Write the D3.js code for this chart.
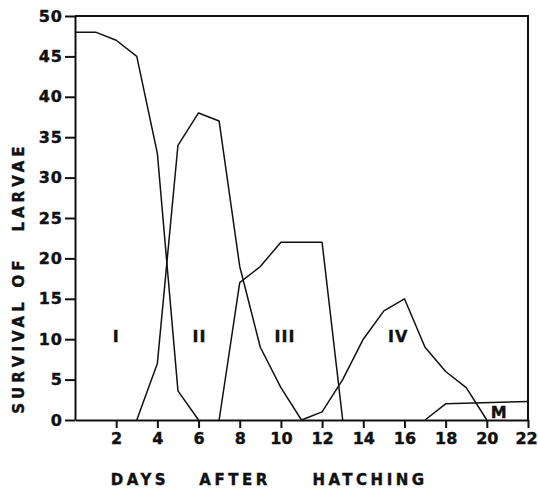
<!DOCTYPE html>
<html>
<head>
<meta charset="utf-8">
<script src="https://cdn.jsdelivr.net/npm/d3@7"></script>
<style>
body { margin: 0; background: #ffffff; }
text { font-family: "DejaVu Sans", sans-serif; font-weight: bold; fill: #111; stroke: #111; stroke-width: 0.4px; }
</style>
</head>
<body>
<div id="larvae"></div>
<script>
//
// Survival of larvae per stage (day, count)
//
var stageI   = [[0,48],[1,48],[2,47],[3,45],[4,33],[5,3.6],[6,0]];
var stageII  = [[3,0],[4,7],[5,34],[6,38],[7,37],[8,19],[9,9],[10,4],[11,0]];
var stageIII = [[7,0],[8,17],[9,19],[10,22],[12,22],[13,0]];
var stageIV  = [[11,0],[12,1],[13,5],[14,10],[15,13.5],[16,15],[17,9],[18,6],[19,4],[20,0]];
var stageM   = [[17,0],[18,2],[22,2.3]];

var stageNames = ["I", "II", "III", "IV", "M"];
var labelDay   = [2, 6.05, 10.2, 15.7, 20.6];
var labelValue = [9.7, 9.7, 9.7, 9.7, 0.2];

var xTicks = [2,4,6,8,10,12,14,16,18,20,22];
var yTicks = [0,5,10,15,20,25,30,35,40,45,50];

//
// size of the plot
//
var margin = {top: 16, right: 10, bottom: 68, left: 75};
var width = 538 - margin.left - margin.right;
var height = 488 - margin.top - margin.bottom;

var x = d3.scaleLinear().domain([0, 22]).range([0, width]);
var y = d3.scaleLinear().domain([0, 50]).range([height, 0]);

var svg = d3.select("#larvae").append("svg")
	.attr("width", 538)
	.attr("height", 488)
	.append("g")
	.attr("transform", "translate(" + margin.left + "," + margin.top + ")");

//
// frame: top and right border
//
svg.append("path")
	.attr("d", "M0,0H" + width + "V" + height)
	.style("fill", "none")
	.style("stroke", "#111")
	.style("stroke-width", 2);

//
// axes
//
var axisX = svg.append("g")
	.attr("transform", "translate(0," + height + ")")
	.call(d3.axisBottom(x).tickValues(xTicks).tickSize(8).tickPadding(5).tickSizeOuter(0));
var axisY = svg.append("g")
	.call(d3.axisLeft(y).tickValues(yTicks).tickSize(10).tickPadding(2).tickSizeOuter(0));

[axisX, axisY].forEach(function(a) {
	a.select(".domain").style("stroke", "#111").style("stroke-width", 2);
	a.selectAll(".tick line").style("stroke", "#111").style("stroke-width", 2);
	a.selectAll(".tick text")
		.style("font-size", "16px")
		.style("font-family", "DejaVu Sans")
		.style("font-weight", "bold")
		.style("fill", "#111");
});
axisY.selectAll(".tick text").style("letter-spacing", "1px");
// last label sits on the window edge, nudge it in a little
axisX.selectAll(".tick text").filter(function(d) { return d === 22; }).attr("dx", "-2");

//
// the curves
//
var line = d3.line()
	.x(function(d) { return x(d[0]); })
	.y(function(d) { return y(d[1]); });

svg.selectAll(".stage")
	.data([stageI, stageII, stageIII, stageIV, stageM])
	.enter().append("path")
	.attr("class", "stage")
	.attr("d", line)
	.style("fill", "none")
	.style("stroke", "#111")
	.style("stroke-width", 1.5)
	.style("stroke-linejoin", "round");

//
// stage labels
//
svg.selectAll(".lbl")
	.data(stageNames)
	.enter().append("text")
	.attr("class", "lbl")
	.attr("x", function(d, i) { return x(labelDay[i]); })
	.attr("y", function(d, i) { return y(labelValue[i]); })
	.style("text-anchor", "middle")
	.style("font-size", "16px")
	.style("letter-spacing", "1px")
	.text(function(d) { return d; });

//
// axis titles, word by word as in the original
//
var xWords = [["DAYS", 140], ["AFTER", 235], ["HATCHING", 370]];
svg.selectAll(".xt")
	.data(xWords)
	.enter().append("text")
	.attr("class", "xt")
	.attr("x", function(d) { return d[1] - margin.left; })
	.attr("y", 485 - margin.top)
	.style("text-anchor", "middle")
	.style("font-size", "15px")
	.style("letter-spacing", "3.5px")
	.text(function(d) { return d[0]; });

var yWords = [["SURVIVAL", 356], ["OF", 272], ["LARVAE", 187]];
svg.selectAll(".yt")
	.data(yWords)
	.enter().append("text")
	.attr("class", "yt")
	.attr("transform", function(d) { return "translate(" + (24 - margin.left) + "," + (d[1] - margin.top) + ") rotate(-90)"; })
	.style("text-anchor", "middle")
	.style("font-size", "15px")
	.style("letter-spacing", "4px")
	.text(function(d) { return d[0]; });
</script>
</body>
</html>
